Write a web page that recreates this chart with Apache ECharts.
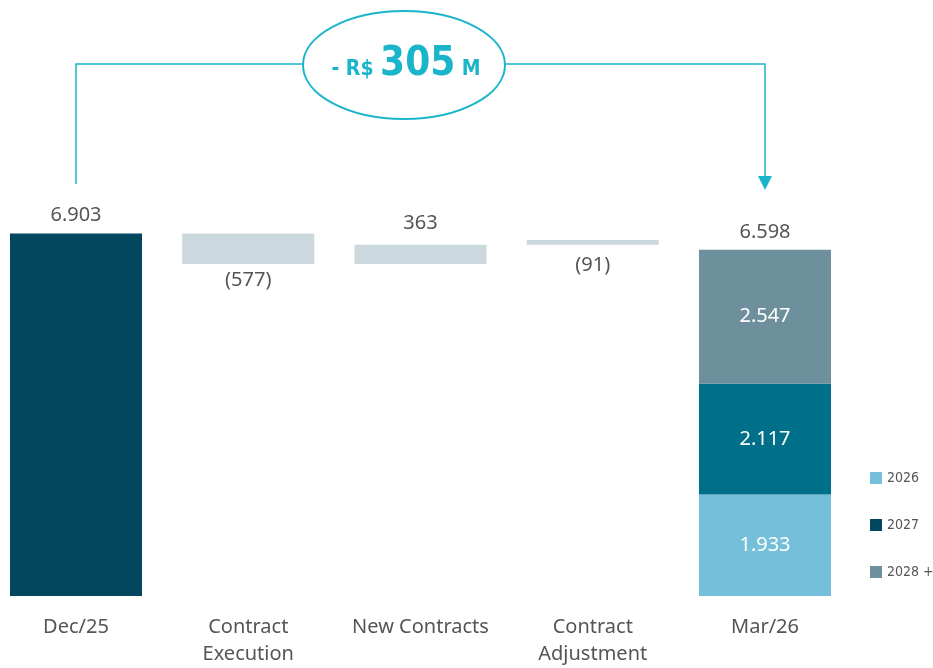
<!DOCTYPE html>
<html>
<head>
<meta charset="utf-8">
<script src="https://cdn.jsdelivr.net/npm/echarts@6/dist/echarts.min.js"></script>
<style>
  html, body { margin: 0; padding: 0; background: #fff; }
  #chart { width: 933px; height: 668px; }
</style>
</head>
<body>
<div id="chart"></div>
<script>
// dados da ponte (R$ milhoes)
var categories = ['Dec/25', 'Contract\nExecution', 'New Contracts', 'Contract\nAdjustment', 'Mar/26'];
var openValue = [6903, '-', '-', '-', '-'];
var floatBase = ['-', 6326, 6326, 6689, '-'];
var floatValue = ['-', 577, 363, 91, '-'];
var floatSign = [0, -1, 1, -1, 0];
var y2026 = ['-', '-', '-', '-', 1933];
var y2027 = ['-', '-', '-', '-', 2117];
var y2028 = ['-', '-', '-', '-', 2547];
var closeTotal = 6598;
var legendNames = ['2026', '2027', '2028 +'];
var deltaText = '305';

var FONT = "'Noto Sans', sans-serif";
var NARROW = "'DejaVu Sans Condensed', 'Noto Sans', sans-serif";
var GREY = '#555555';
var CYAN = '#1BB5CB';

function fmt(n) {
    return String(n).replace(/\B(?=(\d{3})+$)/g, '.');
}

var myChart = echarts.init(document.getElementById('chart'));

var labelDist = [0, 6, 12, 10, 0];
var floatData = floatValue.map(function (v, i) {
    if (v === '-') return '-';
    return {
        value: v,
        label: {
            show: true,
            position: floatSign[i] < 0 ? 'bottom' : 'top',
            distance: labelDist[i],
            formatter: floatSign[i] < 0 ? '(' + v + ')' : String(v)
        }
    };
});

var option = {
    animation: false,
    textStyle: { fontFamily: FONT },
    grid: { left: 76, right: 168, top: 176, bottom: 68 },
    legend: {
        orient: 'vertical',
        left: 865,
        top: 466,
        itemWidth: 12,
        itemHeight: 12,
        itemGap: 33,
        icon: 'rect',
        textStyle: { color: GREY, fontSize: 14, fontFamily: NARROW },
        data: [
            { name: legendNames[0], itemStyle: { color: '#74BFD9' } },
            { name: legendNames[1], itemStyle: { color: '#02475E' } },
            { name: legendNames[2], itemStyle: { color: '#6E909C' } }
        ]
    },
    xAxis: {
        type: 'category',
        data: categories,
        boundaryGap: false,
        axisLine: { show: false },
        axisTick: { show: false },
        axisLabel: {
            color: GREY,
            fontSize: 20,
            lineHeight: 27,
            margin: 18,
            interval: 0,
            fontFamily: FONT
        }
    },
    yAxis: {
        type: 'value',
        min: 0,
        max: 8000,
        show: false,
        splitLine: { show: false }
    },
    series: [
        {
            name: 'Dec/25',
            type: 'bar',
            stack: 'w',
            barWidth: 132,
            clip: false,
            data: openValue,
            itemStyle: { color: '#02475E' },
            label: {
                show: true,
                position: 'top',
                distance: 8,
                color: GREY,
                fontSize: 20,
                formatter: function (p) { return fmt(p.value); }
            }
        },
        {
            name: 'base',
            type: 'bar',
            stack: 'w',
            clip: false,
            data: floatBase,
            itemStyle: { color: 'transparent' },
            silent: true
        },
        {
            name: 'delta',
            type: 'bar',
            stack: 'w',
            clip: false,
            data: floatData,
            itemStyle: { color: '#CBD8DE' },
            label: { color: GREY, fontSize: 20 }
        },
        {
            name: legendNames[0],
            type: 'bar',
            stack: 'w',
            clip: false,
            data: y2026,
            itemStyle: { color: '#74BFD9' },
            label: { show: true, position: 'inside', color: '#fff', fontSize: 20, formatter: function (p) { return fmt(p.value); } }
        },
        {
            name: legendNames[1],
            type: 'bar',
            stack: 'w',
            clip: false,
            data: y2027,
            itemStyle: { color: '#00708A' },
            label: { show: true, position: 'inside', color: '#fff', fontSize: 20, formatter: function (p) { return fmt(p.value); } }
        },
        {
            name: legendNames[2],
            type: 'bar',
            stack: 'w',
            clip: false,
            data: y2028,
            itemStyle: { color: '#6E909C' },
            label: { show: true, position: 'inside', color: '#fff', fontSize: 20, formatter: function (p) { return fmt(p.value); } }
        },
        {
            name: 'total',
            type: 'scatter',
            symbolSize: 0,
            clip: false,
            data: [[4, closeTotal]],
            itemStyle: { opacity: 1 },
            label: {
                show: true,
                position: 'top',
                distance: 7,
                color: GREY,
                fontSize: 20,
                formatter: function (p) { return fmt(p.value[1]); }
            }
        }
    ]
};

myChart.setOption(option, true);

// colchete com o delta no topo
var xL = myChart.convertToPixel({ xAxisIndex: 0 }, categories[0]);
var xR = myChart.convertToPixel({ xAxisIndex: 0 }, categories[4]);
var yTop = 64;
var cx = 404, cy = 65, rx = 101, ry = 54;
myChart.setOption({
    graphic: [
        {
            type: 'polyline',
            shape: { points: [[xL, 184], [xL, yTop], [cx - rx, yTop]] },
            style: { stroke: CYAN, lineWidth: 1.5, fill: null }
        },
        {
            type: 'polyline',
            shape: { points: [[cx + rx, yTop], [xR, yTop], [xR, 182]] },
            style: { stroke: CYAN, lineWidth: 1.5, fill: null }
        },
        {
            type: 'polygon',
            shape: { points: [[xR - 7, 176], [xR + 7, 176], [xR, 190]] },
            style: { fill: CYAN }
        },
        {
            type: 'ellipse',
            shape: { cx: cx, cy: cy, rx: rx, ry: ry },
            style: { stroke: CYAN, lineWidth: 2, fill: '#fff' }
        },
        {
            type: 'text',
            x: cx + 2,
            y: cy,
            style: {
                text: '{a|- R$ }{b|' + deltaText + '}{a| M}',
                align: 'center',
                verticalAlign: 'middle',
                fill: CYAN,
                rich: {
                    a: { fontSize: 21, fontWeight: 'bold', fill: CYAN, fontFamily: NARROW, padding: [10, 0, 0, 0] },
                    b: { fontSize: 40, fontWeight: 'bold', fill: CYAN, fontFamily: NARROW }
                }
            }
        }
    ]
});
</script>
</body>
</html>
